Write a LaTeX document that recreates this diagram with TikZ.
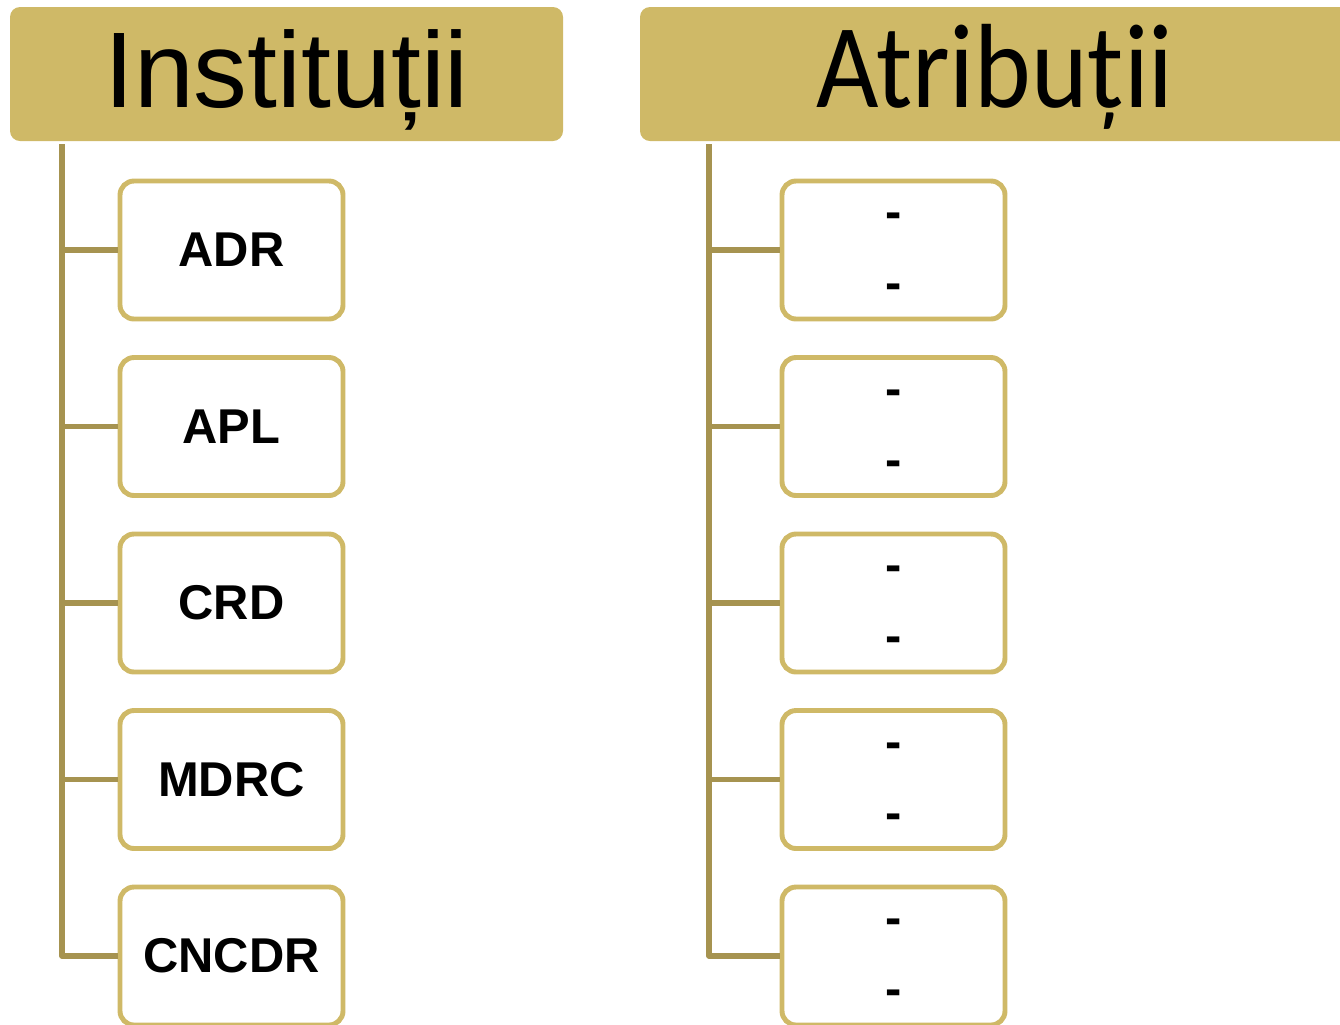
\documentclass[tikz,border=0pt]{standalone}
\usepackage{fontspec}
\setmainfont{Liberation Sans}
\newfontfamily\narrowfont[FakeStretch=0.9]{Carlito}
\definecolor{gold}{HTML}{CFB967}
\definecolor{darkgold}{HTML}{A69350}
\tikzset{
  head/.style={fill=gold, rounded corners=0.1cm, minimum height=1.34cm, text height=0.77cm, text depth=0.11cm, inner sep=0pt},
  item/.style={draw=gold, line width=1.4pt, fill=white, rounded corners=0.14cm, minimum width=2.23cm, minimum height=1.38cm, inner sep=0pt, font=\fontsize{13.9}{20.2}\selectfont\bfseries, align=center},
  tree/.style={draw=darkgold, line width=1.5pt, line join=round}
}
\begin{document}
\begin{tikzpicture}
\useasboundingbox (0,0) rectangle (13.4,-10.24);
\node[head, minimum width=5.53cm, font=\fontsize{30.6}{36}\selectfont] (inst) at (2.865,-0.74) {Instituții};
\node[head, minimum width=7.1cm, font=\narrowfont\fontsize{34.1}{40}\selectfont] (atr) at (9.95,-0.74) {Atribuții};
\coordinate (itop) at (0.62,-1.44);
\coordinate (atop) at (7.09,-1.44);
\foreach \i/\n in {0/ADR,1/APL,2/CRD,3/MDRC,4/CNCDR}{
  \node[item] (i\i) at (2.315,-2.5-1.765*\i) {\n};
  \node[item] (a\i) at (8.935,-2.5-1.765*\i) {\rule{0pt}{0.28cm}-\\-};
  \draw[tree] (itop |- i\i.west) -- (i\i.west);
  \draw[tree] (atop |- a\i.west) -- (a\i.west);
}
\draw[tree] (itop) |- (i4.west);
\draw[tree] (atop) |- (a4.west);
\end{tikzpicture}
\end{document}
